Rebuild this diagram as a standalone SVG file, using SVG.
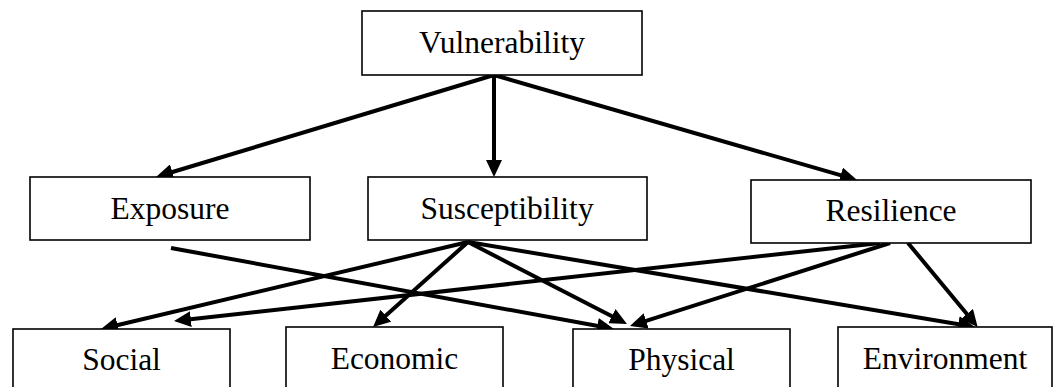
<svg xmlns="http://www.w3.org/2000/svg" width="1053" height="387" viewBox="0 0 1053 387">
  <defs>
    <marker id="arrow" markerUnits="userSpaceOnUse" markerWidth="17" markerHeight="16" refX="5" refY="8" orient="auto">
      <path d="M0,0 L17,8 L0,16 z" fill="#000"/>
    </marker>
    <style>
      .box { fill: #fff; stroke: #000; stroke-width: 1.6; }
      .link { stroke: #000; stroke-width: 4; fill: none; marker-end: url(#arrow); }
    </style>
  </defs>
  <rect width="1053" height="387" fill="#fff"/>

  <!-- connectors -->
  <g id="connectors">
    <line class="link" x1="494" y1="75" x2="167.5" y2="173.5"/>
    <line class="link" x1="494" y1="75" x2="494" y2="165"/>
    <line class="link" x1="494" y1="75" x2="845.5" y2="176.7"/>
    <line class="link" x1="171" y1="248" x2="602.2" y2="326.8"/>
    <line class="link" x1="468" y1="242" x2="112.7" y2="326.2"/>
    <line class="link" x1="468" y1="242" x2="382" y2="319"/>
    <line class="link" x1="468" y1="242" x2="616.3" y2="318.5"/>
    <line class="link" x1="468" y1="242" x2="963.2" y2="325"/>
    <line class="link" x1="880" y1="243" x2="185.9" y2="319.7"/>
    <line class="link" x1="890" y1="243" x2="641.4" y2="322.4"/>
    <line class="link" x1="908" y1="243" x2="970" y2="317.8"/>
  </g>

  <g font-family="Liberation Serif" font-size="31.5" text-anchor="middle" fill="#000">
    <!-- top level -->
    <g id="vulnerability">
      <rect class="box" x="362" y="11" width="280" height="64"/>
      <text x="502" y="53">Vulnerability</text>
    </g>

    <!-- middle level -->
    <g id="exposure">
      <rect class="box" x="30" y="177" width="280" height="63"/>
      <text x="170" y="219">Exposure</text>
    </g>
    <g id="susceptibility">
      <rect class="box" x="368" y="177" width="279" height="63"/>
      <text x="507" y="219">Susceptibility</text>
    </g>
    <g id="resilience">
      <rect class="box" x="751" y="180" width="280" height="63"/>
      <text x="891" y="221">Resilience</text>
    </g>

    <!-- bottom level -->
    <g id="social">
      <rect class="box" x="13" y="329" width="217" height="80"/>
      <text x="121.5" y="370">Social</text>
    </g>
    <g id="economic">
      <rect class="box" x="286" y="327" width="217" height="80"/>
      <text x="394.5" y="368.5">Economic</text>
    </g>
    <g id="physical">
      <rect class="box" x="573" y="329" width="217" height="80"/>
      <text x="681.5" y="369.5">Physical</text>
    </g>
    <g id="environment">
      <rect class="box" x="838" y="327" width="214" height="80"/>
      <text x="945" y="369">Environment</text>
    </g>
  </g>
</svg>
